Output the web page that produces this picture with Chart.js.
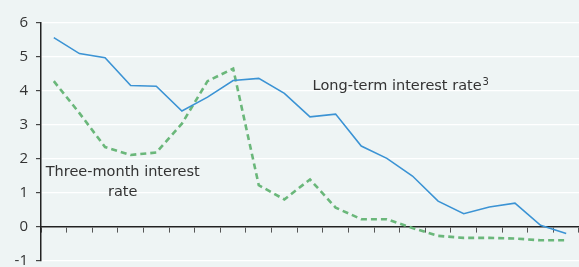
<!DOCTYPE html>
<html>
<head>
<meta charset="utf-8">
<script src="https://cdn.jsdelivr.net/npm/chart.js@4"></script>
<style>
  html, body { margin: 0; padding: 0; background: #eef4f4; }
  #wrap { width: 579px; height: 267px; }
</style>
</head>
<body>
<div id="wrap"><canvas id="myChart"></canvas></div>
<script>
// 21 yearly points, no x labels shown in the picture
const categories = ['1','2','3','4','5','6','7','8','9','10','11','12','13','14','15','16','17','18','19','20','21']
const longTerm = [5.57, 5.10, 4.98, 4.16, 4.14, 3.41, 3.82, 4.31, 4.37, 3.93, 3.24, 3.32, 2.38, 2.02, 1.50, 0.76, 0.39, 0.59, 0.70, 0.05, -0.19]
const threeMonth = [4.29, 3.35, 2.35, 2.12, 2.19, 3.04, 4.29, 4.66, 1.23, 0.81, 1.40, 0.57, 0.23, 0.23, -0.03, -0.26, -0.32, -0.32, -0.34, -0.39, -0.39]
const yTicks = [-1, 0, 1, 2, 3, 4, 5, 6]

const FONT = '"Open Sans", Lato, sans-serif'
const LABEL_FONT = '"DejaVu Sans", sans-serif'

// text labels placed in data coords (category index, value)
const labelPlugin = {
  id: 'labels',
  afterDatasetsDraw(chart) {
    const { ctx, scales: { x, y } } = chart
    ctx.save()
    ctx.fillStyle = '#333'
    ctx.font = '14.5px ' + LABEL_FONT
    ctx.textBaseline = 'middle'
    ctx.textAlign = 'left'
    const lx = x.getPixelForValue(10.1)
    const ly = y.getPixelForValue(4.14)
    const txt = 'Long-term interest rate'
    ctx.fillText(txt, lx, ly)
    const w = ctx.measureText(txt).width
    ctx.font = '10px ' + LABEL_FONT
    ctx.fillText('3', lx + w + 1, ly - 4)
    ctx.font = '14.5px ' + LABEL_FONT
    ctx.textAlign = 'center'
    ctx.fillText('Three-month interest', x.getPixelForValue(2.69), y.getPixelForValue(1.6))
    ctx.fillText('rate', x.getPixelForValue(2.69), y.getPixelForValue(1.02))
    ctx.restore()
  }
}

const bgPlugin = {
  id: 'bg',
  beforeDraw(chart) {
    const ctx = chart.ctx
    ctx.save()
    ctx.fillStyle = '#eef4f4'
    ctx.fillRect(0, 0, chart.width, chart.height)
    ctx.restore()
  }
}

const ctx = document.getElementById('myChart')
const myChart = new Chart(ctx, {
  type: 'line',
  data: {
    labels: categories,
    datasets: [{
      data: longTerm,
      borderColor: '#3b93d4',
      borderWidth: 1.6,
      pointRadius: 0,
      tension: 0,
      fill: false
    }, {
      data: threeMonth,
      borderColor: '#6ab77a',
      borderWidth: 2.6,
      borderDash: [6, 4],
      pointRadius: 0,
      tension: 0,
      fill: false
    }]
  },
  options: {
    responsive: true,
    maintainAspectRatio: false,
    animation: false,
    layout: { padding: { top: 23, bottom: 6, right: 0, left: 0 } },
    plugins: {
      legend: { display: false },
      tooltip: { enabled: false }
    },
    scales: {
      x: {
        type: 'category',
        offset: true,
        position: { y: 0 },
        afterFit(scale) {
          scale.height = 0
        },
        border: { display: true, color: '#222', width: 1.6 },
        grid: {
          display: true,
          offset: true,
          drawOnChartArea: false,
          drawTicks: true,
          tickLength: 5,
          color: '#555',
          lineWidth: 1
        },
        ticks: { display: false }
      },
      y: {
        min: -1,
        max: 6,
        afterBuildTicks(scale) {
          scale.ticks = yTicks.map(v => ({ value: v }))
        },
        afterFit(scale) {
          scale.width = 41
          scale.paddingTop = 0
          scale.paddingBottom = 0
        },
        border: { display: true, color: '#222', width: 1.5 },
        grid: {
          color: '#ffffff',
          lineWidth: 1.2,
          drawTicks: true,
          tickLength: 5,
          tickColor: '#444'
        },
        ticks: {
          color: '#333',
          padding: 8,
          font: { family: FONT, size: 15 }
        }
      }
    }
  },
  plugins: [bgPlugin, labelPlugin]
})
</script>
</body>
</html>
